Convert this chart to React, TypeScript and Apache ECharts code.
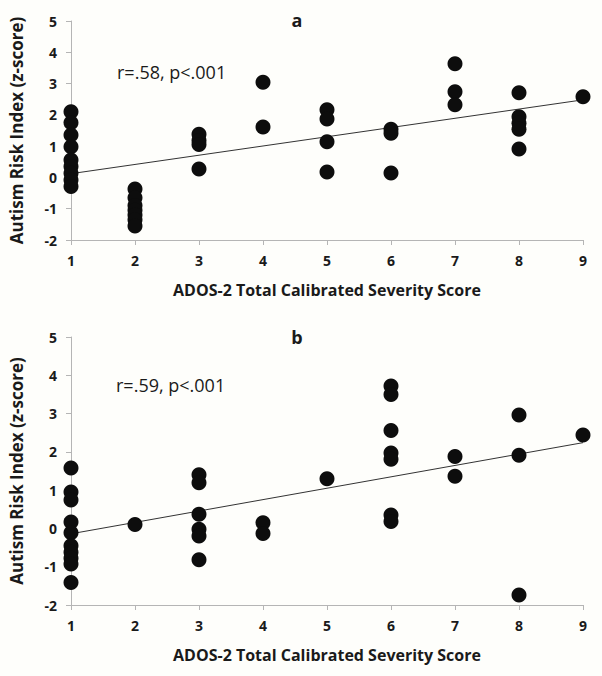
import React, { useEffect, useRef } from "react";
import * as echarts from "echarts";

const xTicks = [1, 2, 3, 4, 5, 6, 7, 8, 9];

const pointsA: [number, number][] = [
  [1, 2.1], [1, 1.75], [1, 1.36], [1, 0.98], [1, 0.56], [1, 0.35], [1, 0.13], [1, -0.08], [1, -0.29],
  [2, -0.37], [2, -0.65], [2, -0.9], [2, -1.05], [2, -1.2], [2, -1.35], [2, -1.55],
  [3, 1.38], [3, 1.18], [3, 1.05], [3, 0.27],
  [4, 3.04], [4, 1.61],
  [5, 2.16], [5, 1.87], [5, 1.14], [5, 0.17],
  [6, 1.54], [6, 1.41], [6, 0.14],
  [7, 3.63], [7, 2.74], [7, 2.32],
  [8, 2.71], [8, 1.94], [8, 1.73], [8, 1.54], [8, 0.91],
  [9, 2.58],
];

const pointsB: [number, number][] = [
  [1, 1.58], [1, 0.95], [1, 0.74], [1, 0.17], [1, -0.11], [1, -0.45], [1, -0.62], [1, -0.78], [1, -0.93], [1, -1.41],
  [2, 0.1],
  [3, 1.4], [3, 1.19], [3, 0.37], [3, -0.02], [3, -0.2], [3, -0.82],
  [4, 0.15], [4, -0.13],
  [5, 1.3],
  [6, 3.72], [6, 3.5], [6, 2.56], [6, 1.97], [6, 1.81], [6, 0.35], [6, 0.18],
  [7, 1.88], [7, 1.36],
  [8, 2.96], [8, 1.91], [8, -1.74],
  [9, 2.44],
];

const fitA: [number, number][] = [[1, 0.12], [9, 2.48]];
const fitB: [number, number][] = [[1, -0.14], [9, 2.24]];

const statA = "r=.58, p<.001";
const statB = "r=.59, p<.001";
const panelLabels = ["a", "b"];
const xTitle = "ADOS-2 Total Calibrated Severity Score";
const yTitle = "Autism Risk Index (z-score)";

const FONT = "'Open Sans', sans-serif";
const AXIS_COLOR = "#b5b5b5";
const TEXT_COLOR = "#1a1a1a";

export default function App() {
  const ref = useRef<HTMLDivElement>(null);
  useEffect(() => {
    if (!ref.current) return;
    const chart = echarts.init(ref.current, undefined, { renderer: "svg" });
    const mkX = (gridIndex: number) => ({
      type: "value",
      gridIndex,
      min: 1,
      max: 9,
      interval: 1,
      name: xTitle,
      nameLocation: "middle",
      nameGap: 42,
      nameTextStyle: { fontFamily: FONT, fontWeight: "bold", fontSize: 16, color: TEXT_COLOR },
      axisLine: { show: true, onZero: false, lineStyle: { color: AXIS_COLOR, width: 1 } },
      axisTick: { show: true, length: 5, lineStyle: { color: AXIS_COLOR } },
      axisLabel: {
        fontFamily: FONT, fontWeight: "bold", fontSize: 14, color: TEXT_COLOR, margin: 13,
        formatter: (v: number) => (xTicks.includes(v) ? String(v) : ""),
      },
      splitLine: { show: false },
    });
    const mkY = (gridIndex: number) => ({
      type: "value",
      gridIndex,
      min: -2,
      max: 5,
      interval: 1,
      name: yTitle,
      nameLocation: "middle",
      nameGap: 46,
      nameRotate: 90,
      nameTextStyle: { fontFamily: FONT, fontWeight: "bold", fontSize: 17, color: TEXT_COLOR },
      axisLine: { show: true, onZero: false, lineStyle: { color: AXIS_COLOR, width: 1 } },
      axisTick: { show: true, length: 5, lineStyle: { color: AXIS_COLOR } },
      axisLabel: { fontFamily: FONT, fontWeight: "bold", fontSize: 14, color: TEXT_COLOR, margin: 14 },
      splitLine: { show: false },
    });
    const scatter = (idx: number, data: [number, number][]) => ({
      type: "scatter",
      xAxisIndex: idx,
      yAxisIndex: idx,
      data,
      symbolSize: 15,
      itemStyle: { color: "#0d0d0d", opacity: 1 },
      z: 3,
    });
    const fit = (idx: number, data: [number, number][]) => ({
      type: "line",
      xAxisIndex: idx,
      yAxisIndex: idx,
      data,
      symbol: "none",
      lineStyle: { color: "#333", width: 1 },
      z: 2,
    });
    chart.setOption({
      animation: false,
      backgroundColor: "#fefefb",
      grid: [
        { left: 69, top: 21, width: 514, height: 219 },
        { left: 69, top: 337, width: 514, height: 268 },
      ],
      xAxis: [mkX(0), mkX(1)],
      yAxis: [mkY(0), mkY(1)],
      series: [scatter(0, pointsA), fit(0, fitA), scatter(1, pointsB), fit(1, fitB)],
      graphic: [
        { type: "text", x: 297, y: 20, style: { text: panelLabels[0], font: `bold 18px ${FONT}`, fill: TEXT_COLOR, align: "center", verticalAlign: "middle" } },
        { type: "text", x: 297, y: 337, style: { text: panelLabels[1], font: `bold 18px ${FONT}`, fill: TEXT_COLOR, align: "center", verticalAlign: "middle" } },
        { type: "text", x: 117, y: 72, style: { text: statA, font: `18px ${FONT}`, fill: TEXT_COLOR, verticalAlign: "middle" } },
        { type: "text", x: 116, y: 385, style: { text: statB, font: `18px ${FONT}`, fill: TEXT_COLOR, verticalAlign: "middle" } },
      ],
    });
    return () => chart.dispose();
  }, []);
  return (
    <div
      ref={ref}
      style={{ position: "absolute", left: 0, top: 0, width: 602, height: 676 }}
    />
  );
}
